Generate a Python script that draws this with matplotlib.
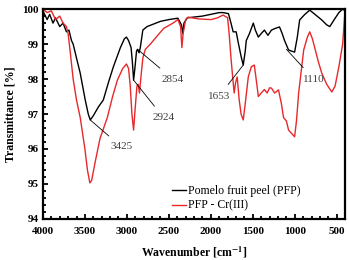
import numpy as np
import matplotlib
matplotlib.use('Agg')
import matplotlib.pyplot as plt
from matplotlib.ticker import MultipleLocator

plt.rcParams['font.family'] = ['Liberation Serif', 'DejaVu Serif']
plt.rcParams['mathtext.fontset'] = 'stix'

# PFP (black) : wavenumber, transmittance
pfp_wn = [4000, 3950, 3920, 3880, 3850, 3800, 3760, 3720, 3690, 3660, 3640, 3600,
          3556, 3496, 3460, 3436, 3400, 3340, 3281, 3220, 3161, 3077, 3030, 3005,
          2980, 2950, 2935, 2920, 2905, 2885, 2873, 2855, 2840, 2810, 2760, 2717,
          2600, 2500, 2393, 2350, 2333, 2320, 2280, 2100, 2000, 1900, 1854, 1790,
          1760, 1734, 1698, 1670, 1638, 1614, 1590, 1578, 1540, 1494, 1470, 1434,
          1400, 1362, 1320, 1278, 1230, 1182, 1150, 1122, 1074, 1040, 1002, 970,
          942, 880, 822, 760, 679, 620, 583, 530, 475, 430, 400]
pfp_t = [99.95, 99.7, 99.85, 99.6, 99.75, 99.5, 99.6, 99.35, 99.4, 99.1, 99.0, 98.6,
         98.17, 97.4, 97.0, 96.83, 96.95, 97.2, 97.4, 97.9, 98.35, 98.9, 99.15, 99.2,
         99.1, 98.9, 98.5, 97.97, 98.3, 98.8, 98.85, 98.75, 98.9, 99.4, 99.5, 99.54,
         99.65, 99.7, 99.74, 99.55, 99.3, 99.6, 99.75, 99.8, 99.85, 99.9, 99.9, 99.87,
         99.6, 99.35, 99.35, 99.0, 98.63, 98.4, 98.8, 99.1, 99.3, 99.6, 99.4, 99.2,
         99.3, 99.4, 99.25, 99.4, 99.45, 99.49, 99.3, 99.1, 98.83, 98.8, 98.77, 99.2,
         99.69, 99.85, 99.97, 99.85, 99.69, 99.55, 99.5, 99.7, 99.9, 100.0, 99.95]

# PFP - Cr(III) (red)
cr_wn = [4000, 3950, 3900, 3850, 3800, 3760, 3720, 3700, 3676, 3640, 3600, 3556,
         3500, 3470, 3441, 3420, 3380, 3320, 3233, 3170, 3113, 3050, 3005, 2980,
         2960, 2940, 2920, 2900, 2880, 2865, 2850, 2835, 2810, 2780, 2720, 2650,
         2561, 2450, 2393, 2360, 2345, 2330, 2300, 2273, 2150, 1998, 1920, 1854,
         1800, 1782, 1760, 1734, 1722, 1705, 1686, 1662, 1640, 1614, 1590, 1554,
         1518, 1482, 1455, 1434, 1400, 1362, 1330, 1300, 1278, 1240, 1194, 1160,
         1134, 1100, 1074, 1040, 1002, 980, 954, 920, 894, 850, 822, 790, 763, 720,
         679, 620, 559, 520, 475, 430, 403]
cr_t = [100.0, 99.9, 99.95, 99.7, 99.8, 99.6, 99.5, 99.3, 98.8, 98.0, 97.4, 96.9,
        96.0, 95.4, 95.03, 95.1, 95.6, 96.3, 96.9, 97.5, 97.97, 98.3, 98.43, 98.3,
        97.8, 97.0, 96.54, 97.2, 97.8, 97.85, 97.6, 98.0, 98.6, 98.85, 99.0, 99.2,
        99.45, 99.6, 99.7, 99.5, 98.9, 99.3, 99.7, 99.77, 99.72, 99.7, 99.75, 99.83,
        99.75, 99.3, 98.6, 97.9, 97.6, 97.9, 98.06, 97.4, 97.0, 96.83, 97.3, 98.06,
        98.35, 98.4, 97.9, 97.5, 97.6, 97.7, 97.6, 97.75, 97.74, 97.6, 97.69, 97.3,
        96.9, 96.8, 96.54, 96.45, 96.35, 96.8, 97.6, 98.3, 98.83, 99.2, 99.35, 99.15,
        98.9, 98.5, 98.17, 97.85, 97.63, 97.8, 98.35, 99.0, 99.9]

# peak labels: text, point on black curve, text position
peak_labels = ['3425', '2924', '2854', '1653', '1110']
peak_xy = [(3436, 96.83), (2920, 97.97), (2873, 98.85), (1614, 98.4), (1100, 98.85)]
label_xy = [(3065, 96.06), (2561, 96.89), (2453, 98.0), (1902, 97.51), (775, 98.0)]

fig = plt.figure(figsize=(3.49, 2.60), dpi=100)
ax = fig.add_axes([0.123, 0.158, 0.866, 0.807])

ax.plot(pfp_wn, pfp_t, color='black', lw=1.0, label='Pomelo fruit peel (PFP)')
ax.plot(cr_wn, cr_t, color='#e8282b', lw=1.0, label='PFP - Cr(III)')

for txt, p, t in zip(peak_labels, peak_xy, label_xy):
    ax.annotate(txt, xy=p, xytext=t, fontsize=8, color='#404040',
                ha='center', va='center',
                arrowprops=dict(arrowstyle='-', color='black', lw=0.6,
                                shrinkA=4, shrinkB=0))

ax.set_xlim(4000, 400)
ax.set_ylim(94, 100)
ax.xaxis.set_major_locator(MultipleLocator(500))
ax.xaxis.set_minor_locator(MultipleLocator(100))
ax.yaxis.set_major_locator(MultipleLocator(1))
ax.yaxis.set_minor_locator(MultipleLocator(0.2))
ax.tick_params(which='both', direction='in', width=1.3, labelsize=8)
ax.tick_params(axis='x', pad=6)
ax.tick_params(axis='y', pad=3)
ax.tick_params(which='major', length=3.5)
ax.tick_params(which='minor', length=2)
for lab in ax.get_xticklabels() + ax.get_yticklabels():
    lab.set_fontweight('bold')
for s in ax.spines.values():
    s.set_linewidth(1.6)

ax.set_xlabel('Wavenumber [cm$^{\\mathbf{-1}}$]', fontsize=8.5, fontweight='bold', labelpad=6)
ax.set_ylabel('Transmittance [%]', fontsize=8.5, fontweight='bold', labelpad=4)

ax.legend(loc='lower right', frameon=False, fontsize=8.5, handlelength=1.2,
          handletextpad=0.2, labelspacing=0.25, borderaxespad=0.3,
          bbox_to_anchor=(0.88, -0.005))

fig.savefig('out.png', dpi=100)
